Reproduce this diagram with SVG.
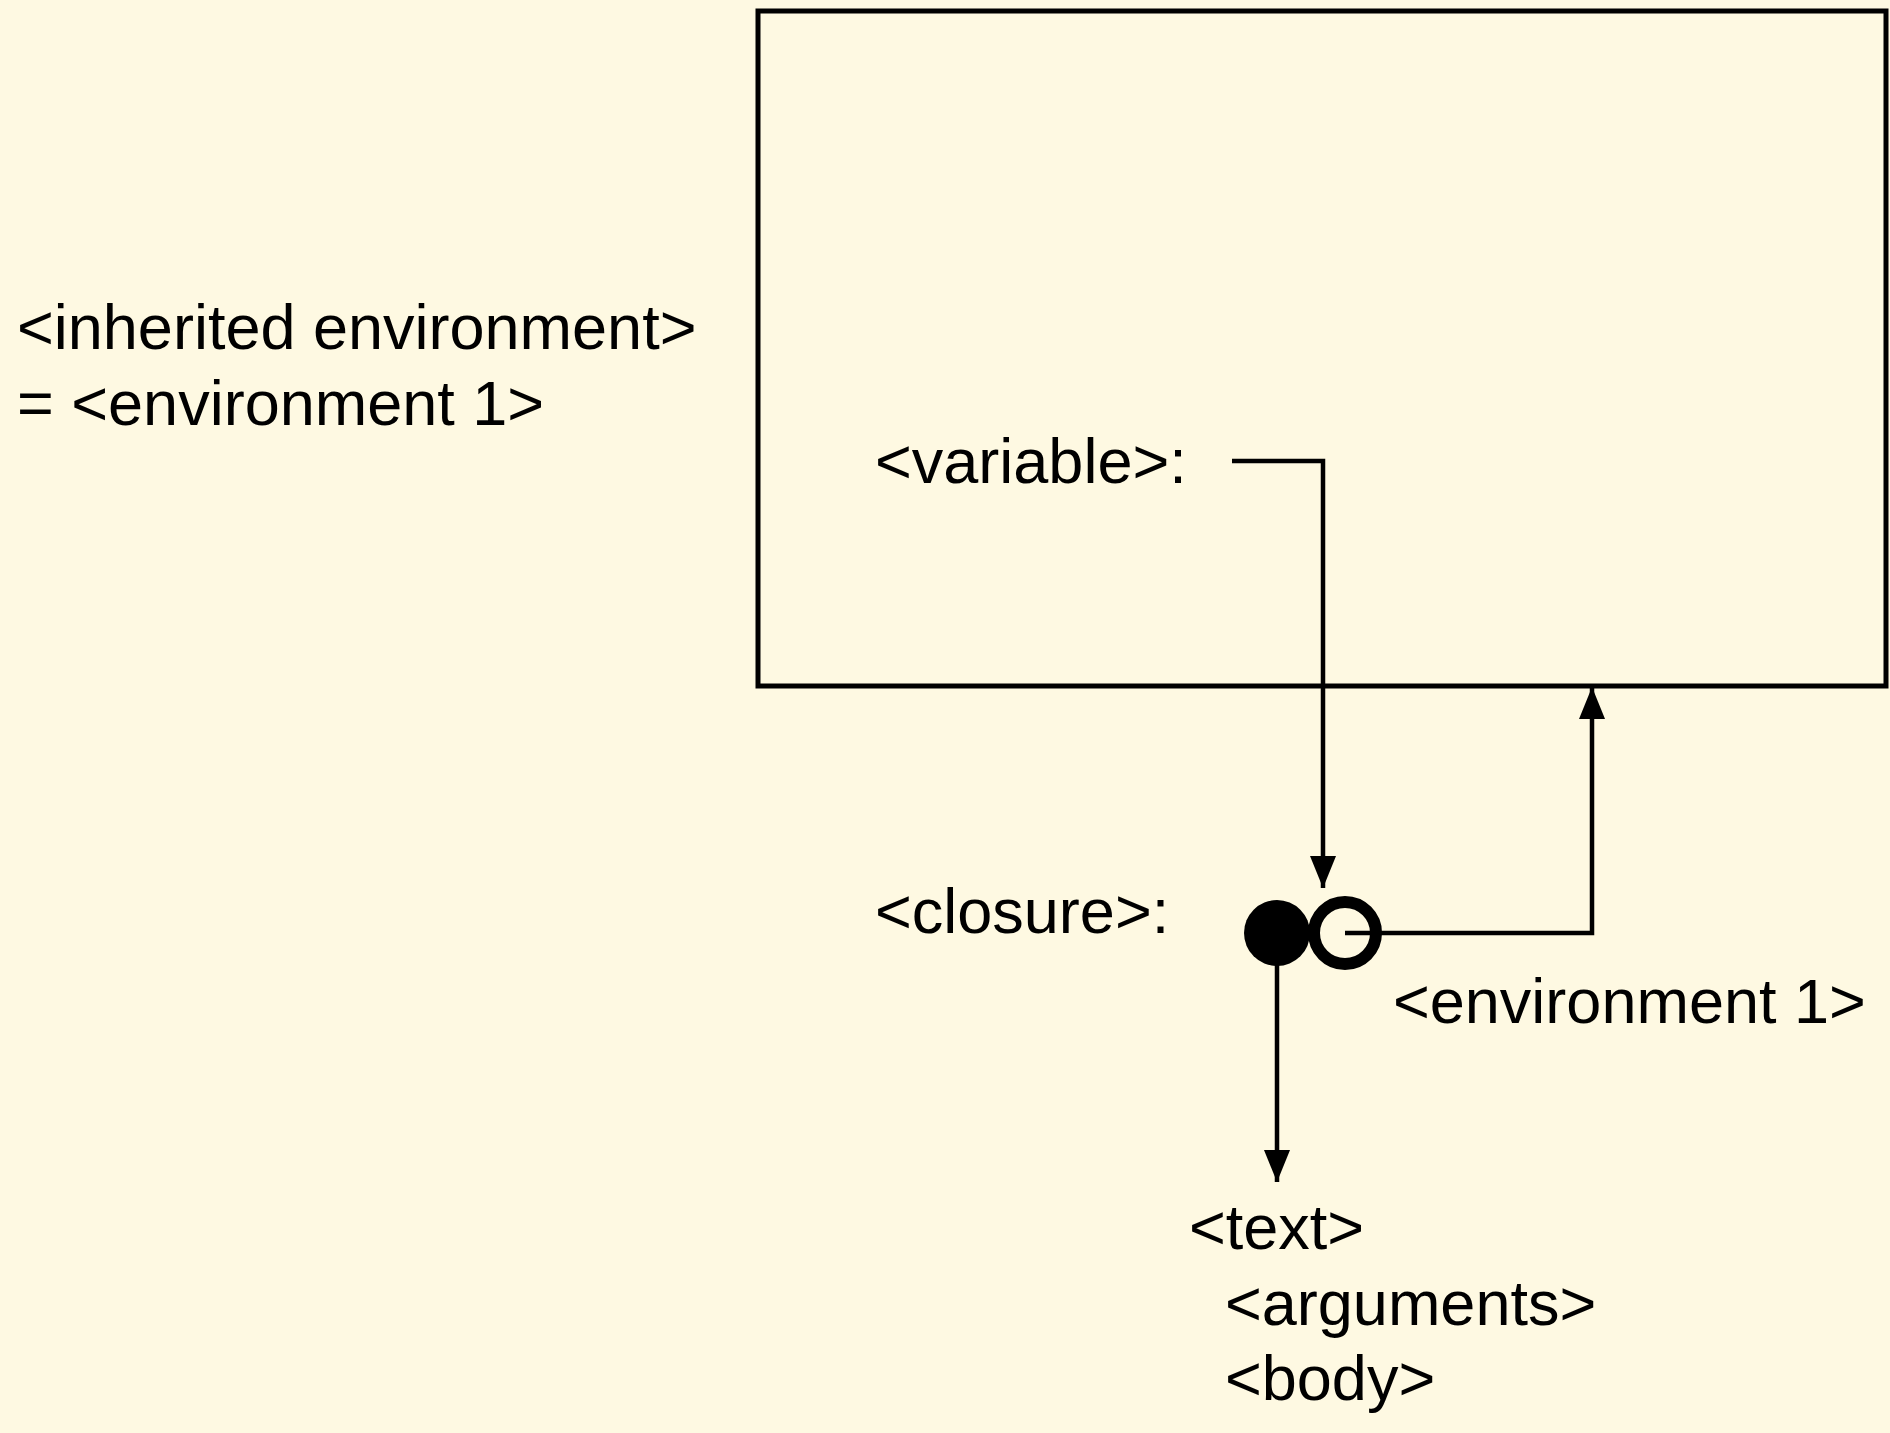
<svg xmlns="http://www.w3.org/2000/svg" width="1890" height="1433" viewBox="0 0 1890 1433">
<style>
text{font-family:"Liberation Sans",Arial,sans-serif;font-size:63px;fill:#000}
.ln{fill:none;stroke:#000;stroke-width:4.5}
</style>
<defs>
<marker id="ah" markerUnits="userSpaceOnUse" markerWidth="32" markerHeight="26" refX="32" refY="13" orient="auto" viewBox="0 0 32 26">
<path d="M0,0 L32,13 L0,26 Z" fill="#000"/>
</marker>
</defs>
<rect width="1890" height="1433" fill="#FEF9E2"/>
<g id="environment-box">
<rect x="758" y="11" width="1128" height="675" fill="none" stroke="#000" stroke-width="5"/>
</g>
<g id="inherited-label">
<text x="17" y="349">&lt;inherited environment&gt;</text>
<text x="17" y="425">= &lt;environment 1&gt;</text>
</g>
<g id="variable">
<text x="875" y="483">&lt;variable&gt;:</text>
</g>
<g id="closure">
<text x="875" y="933">&lt;closure&gt;:</text>
<circle cx="1277" cy="933" r="33" fill="#000"/>
<circle cx="1345" cy="933" r="31" fill="none" stroke="#000" stroke-width="12"/>
</g>
<g id="env1-label">
<text x="1393" y="1023">&lt;environment 1&gt;</text>
</g>
<g id="text-node">
<text x="1189" y="1249">&lt;text&gt;</text>
<text x="1225" y="1325">&lt;arguments&gt;</text>
<text x="1225" y="1400">&lt;body&gt;</text>
</g>
<g id="connectors">
<path class="ln" d="M1232,461 H1323 V888" marker-end="url(#ah)"/>
<path class="ln" d="M1345,933 H1592 V687" marker-end="url(#ah)"/>
<path class="ln" d="M1277,960 V1182" marker-end="url(#ah)"/>
</g>
</svg>
